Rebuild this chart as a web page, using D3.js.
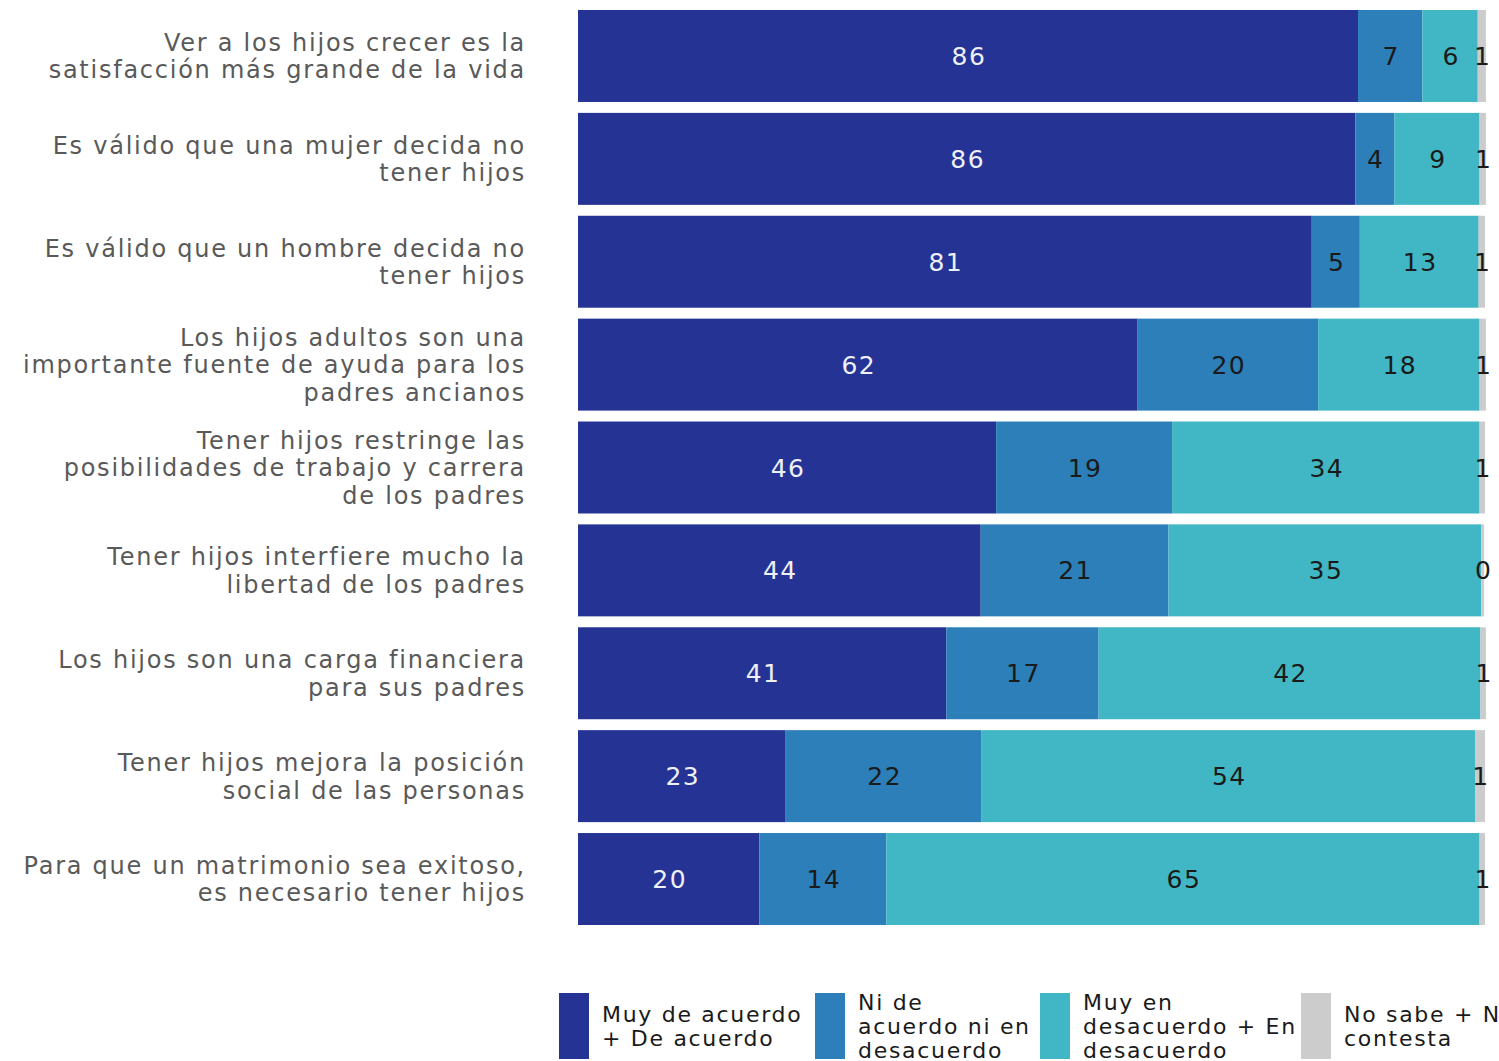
<!DOCTYPE html>
<html lang="en">
<head>
<meta charset="utf-8">
<title>Hijos - opiniones</title>
<script src="https://d3js.org/d3.v7.min.js"></script>
<style>
  body { margin: 0; background: #fff; }
  text { font-family: "DejaVu Sans", "Open Sans", sans-serif; }
</style>
</head>
<body>
<script>
// categories (one array of lines per label)
var categories = [
  ["Ver a los hijos crecer es la", "satisfacción más grande de la vida"],
  ["Es válido que una mujer decida no", "tener hijos"],
  ["Es válido que un hombre decida no", "tener hijos"],
  ["Los hijos adultos son una", "importante fuente de ayuda para los", "padres ancianos"],
  ["Tener hijos restringe las", "posibilidades de trabajo y carrera", "de los padres"],
  ["Tener hijos interfiere mucho la", "libertad de los padres"],
  ["Los hijos son una carga financiera", "para sus padres"],
  ["Tener hijos mejora la posición", "social de las personas"],
  ["Para que un matrimonio sea exitoso,", "es necesario tener hijos"]
];

// series values (percent)
var acuerdo     = [86.0, 85.7, 80.9, 61.7, 46.1, 44.4, 40.6, 22.9, 20.0];
var ni          = [7.1, 4.3, 5.3, 19.9, 19.4, 20.7, 16.8, 21.6, 14.0];
var desacuerdo  = [6.1, 9.4, 13.1, 17.8, 33.9, 34.5, 42.1, 54.4, 65.4];
var nosabe      = [0.9, 0.7, 0.7, 0.7, 0.6, 0.3, 0.6, 1.1, 0.6];

var seriesNames = [
  ["Muy de acuerdo", "+ De acuerdo"],
  ["Ni de", "acuerdo ni en", "desacuerdo"],
  ["Muy en", "desacuerdo + En", "desacuerdo"],
  ["No sabe + No", "contesta"]
];
var colors = ["#253494", "#2c7fb8", "#41b6c4", "#cccccc"];
var labelColors = ["#eef0f8", "#1a1a1a", "#1a1a1a", "#1a1a1a"];

var keys = ["a", "n", "d", "s"];
var rows = categories.map(function(c, i) {
  return { i: i, a: acuerdo[i], n: ni[i], d: desacuerdo[i], s: nosabe[i] };
});

var w = 1499, h = 1061;
var svg = d3.select("body").append("svg")
  .attr("width", w).attr("height", h);

var x = d3.scaleLinear().domain([0, 100]).range([578, 1485]);
var y = d3.scaleBand()
  .domain(d3.range(categories.length))
  .range([10, 925])
  .paddingInner(0.106)
  .paddingOuter(0);

var stack = d3.stack().keys(keys);
var series = stack(rows);

var groups = svg.selectAll("g.series")
  .data(series)
  .enter()
  .append("g")
  .attr("class", "series")
  .style("fill", function(d, i) { return colors[i]; });

groups.selectAll("rect")
  .data(function(d) { return d; })
  .enter()
  .append("rect")
  .attr("x", function(d) { return x(d[0]); })
  .attr("y", function(d) { return y(d.data.i); })
  .attr("width", function(d) { return x(d[1]) - x(d[0]); })
  .attr("height", y.bandwidth());

// value labels
groups.each(function(s, si) {
  d3.select(this).selectAll("text")
    .data(s)
    .enter()
    .append("text")
    .attr("x", function(d) { return (x(d[0]) + x(d[1])) / 2 + 1; })
    .attr("y", function(d) { return y(d.data.i) + y.bandwidth() / 2; })
    .attr("dy", "0.36em")
    .attr("text-anchor", "middle")
    .style("fill", labelColors[si])
    .style("font-size", "25px")
    .style("letter-spacing", "1.5px")
    .text(function(d) { return Math.round(d[1] - d[0]); });
});

// category labels
var lineH = 27.5;
var cat = svg.selectAll("text.cat")
  .data(categories)
  .enter()
  .append("text")
  .attr("class", "cat")
  .attr("text-anchor", "end")
  .style("fill", "#595959")
  .style("font-size", "24px")
  .style("letter-spacing", "1.75px");

cat.each(function(lines, i) {
  var cy = y(i) + y.bandwidth() / 2;
  var top = cy - (lines.length - 1) * lineH / 2;
  d3.select(this).selectAll("tspan")
    .data(lines)
    .enter()
    .append("tspan")
    .attr("x", 526)
    .attr("y", function(d, j) { return top + j * lineH; })
    .attr("dy", "0.36em")
    .text(function(d) { return d; });
});

// legend
var legX = [559, 815, 1040, 1301];
var leg = svg.selectAll("g.leg")
  .data(seriesNames)
  .enter()
  .append("g")
  .attr("class", "leg")
  .attr("transform", function(d, i) { return "translate(" + legX[i] + ",993)"; });

leg.append("rect")
  .attr("width", 30)
  .attr("height", 66)
  .style("fill", function(d, i) { return colors[i]; });

leg.append("text")
  .style("fill", "#1a1a1a")
  .style("font-size", "22px")
  .style("letter-spacing", "1.7px")
  .each(function(lines) {
    var top = 33 - (lines.length - 1) * 24 / 2;
    d3.select(this).selectAll("tspan")
      .data(lines)
      .enter()
      .append("tspan")
      .attr("x", 43)
      .attr("y", function(d, j) { return top + j * 24; })
      .attr("dy", "0.36em")
      .text(function(d) { return d; });
  });
</script>
</body>
</html>
